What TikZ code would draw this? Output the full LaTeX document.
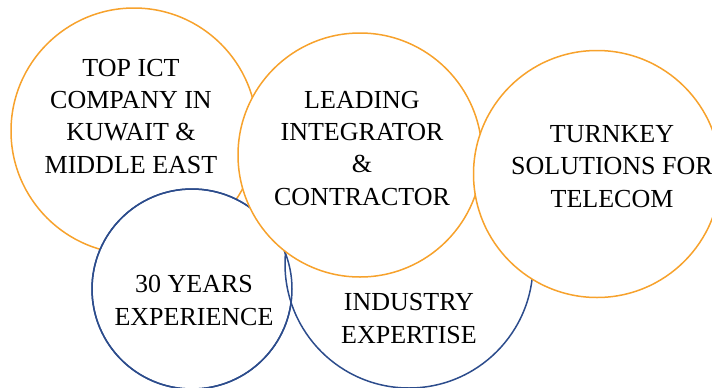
\documentclass[tikz,border=0pt]{standalone}
\usepackage{fontspec}
\setmainfont{Liberation Serif}
\definecolor{orng}{HTML}{F7A22C}
\definecolor{navy}{HTML}{2C4C8C}
\begin{document}
\begin{tikzpicture}[x=1pt,y=-1pt,
  bub/.style={circle, fill=white, line width=1.5pt, inner sep=0pt},
  ob/.style={bub, draw=orng},
  nb/.style={bub, draw=navy},
  lbl/.style={align=center, font=\fontsize{26}{32.3}\selectfont, anchor=base, inner sep=0pt}]
\useasboundingbox (0,0) rectangle (712,388);
\clip (0,0) rectangle (712,388);
\node[ob, minimum size=246pt] (c1) at (134,131) {};
\node[nb, minimum size=200pt] (c4) at (192,289) {};
\node[nb, minimum size=248pt] (c5) at (409,264) {};
\node[bub, draw=navy, fill=none, minimum size=200pt] (c4o) at (c4) {};
\node[ob, minimum size=244pt] (c2) at (360,155) {};
\node[ob, minimum size=247pt] (c3) at (597,174) {};
\node[lbl] (t1) at (131,173) {TOP ICT\\COMPANY IN\\KUWAIT \&\\MIDDLE EAST};
\node[lbl] (t2) at (362,205) {LEADING\\INTEGRATOR\\\&\\CONTRACTOR};
\node[lbl] (t3) at (612,207) {TURNKEY\\SOLUTIONS FOR\\TELECOM};
\node[lbl] (t4) at (194,325) {30 YEARS\\EXPERIENCE};
\node[lbl] (t5) at (409,343) {INDUSTRY\\EXPERTISE};
\end{tikzpicture}
\end{document}
